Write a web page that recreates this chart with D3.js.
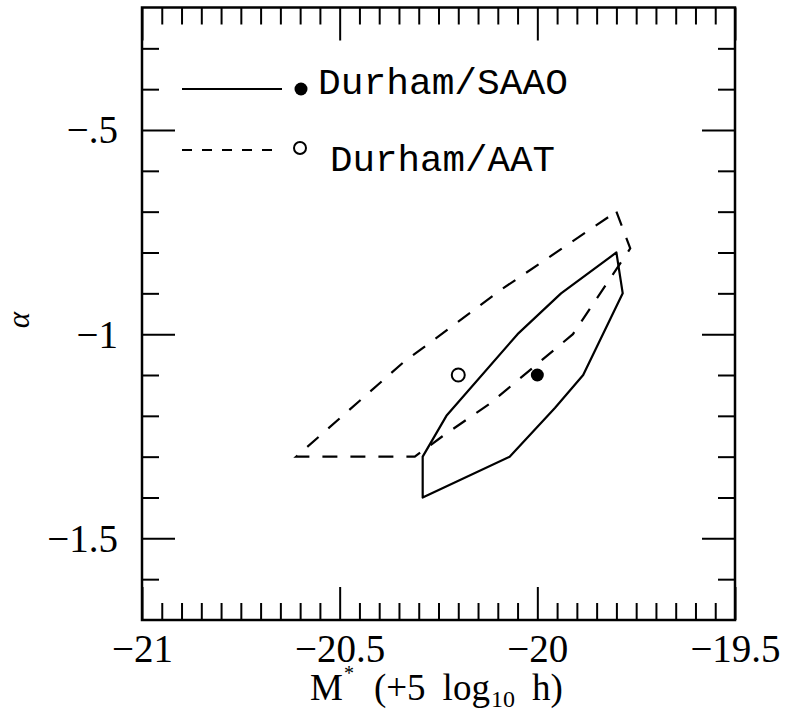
<!DOCTYPE html>
<html><head><meta charset="utf-8">
<script src="https://cdn.jsdelivr.net/npm/d3@7"></script>
<style>body{margin:0;background:#fff}</style>
</head><body>
<svg id="c" width="788" height="714"></svg>
<script>
// ---- data ----
const xMajorTicks = [-21, -20.5, -20, -19.5];
const xMajorLabels = ["\u221221", "\u221220.5", "\u221220", "\u221219.5"];
const yMajorTicks = [-0.5, -1, -1.5];
const yMajorLabels = ["\u2212.5", "\u22121", "\u22121.5"];
const xMinorStep = 0.05;
const yMinorStep = 0.1;

// Durham/SAAO contour (solid)
const saaoM     = [-19.80, -19.784, -19.884, -19.955, -20.07, -20.29, -20.29, -20.23, -20.05, -19.94];
const saaoAlpha = [-0.80,  -0.90,   -1.10,   -1.18,   -1.30,  -1.40,  -1.30,  -1.20,  -1.00,  -0.90];
// Durham/AAT contour (dashed)
const aatM      = [-19.80, -19.765, -19.91, -20.12, -20.24, -20.31, -20.61, -20.34, -20.09];
const aatAlpha  = [-0.70,  -0.79,   -1.00,  -1.17,  -1.25,  -1.30,  -1.30,  -1.07,  -0.89];

const seriesNames = ["Durham/SAAO", "Durham/AAT"];
const bestM     = [-20.00, -20.20];
const bestAlpha = [-1.10, -1.10];

// ---- layout ----
const svg = d3.select("#c");
const L = 142, R = 735, T = 7.5, B = 620;
const x = d3.scaleLinear().domain([-21, -19.5]).range([L, R]);
const y = d3.scaleLinear().domain([-1.7, -0.2]).range([B, T]);
const serif = "'Liberation Serif', 'DejaVu Serif', serif";

const xMinor = d3.range(-21 + xMinorStep, -19.5 - 1e-9, xMinorStep).filter(v => !xMajorTicks.some(m => Math.abs(m - v) < 1e-6));
const yMinor = d3.range(-1.7 + yMinorStep, -0.2 - 1e-9, yMinorStep).filter(v => !yMajorTicks.some(m => Math.abs(m - v) < 1e-6));

function styleAxis(g) {
  g.select(".domain").remove();
  g.attr("font-size", null).attr("font-family", null);
  g.selectAll("line").attr("stroke", "#000").attr("stroke-width", 2);
}
const minorLen = 17, majorLen = 33;
// bottom
svg.append("g").attr("transform", `translate(0,${B})`).call(d3.axisBottom(x).tickValues(xMinor).tickSize(-minorLen).tickFormat("")).call(styleAxis);
const xb = svg.append("g").attr("transform", `translate(0,${B})`)
  .call(d3.axisBottom(x).tickValues(xMajorTicks).tickSize(-majorLen).tickFormat((d, i) => xMajorLabels[i])).call(styleAxis);
xb.selectAll("text").attr("y", 42).attr("dy", 0).style("font-family", serif).style("font-size", "39px").attr("fill", "#000");
// top
svg.append("g").attr("transform", `translate(0,${T})`).call(d3.axisTop(x).tickValues(xMinor).tickSize(-minorLen).tickFormat("")).call(styleAxis);
svg.append("g").attr("transform", `translate(0,${T})`).call(d3.axisTop(x).tickValues(xMajorTicks).tickSize(-majorLen).tickFormat("")).call(styleAxis);
// left
svg.append("g").attr("transform", `translate(${L},0)`).call(d3.axisLeft(y).tickValues(yMinor).tickSize(-minorLen).tickFormat("")).call(styleAxis);
const yl = svg.append("g").attr("transform", `translate(${L},0)`)
  .call(d3.axisLeft(y).tickValues(yMajorTicks).tickSize(-majorLen).tickFormat((d, i) => yMajorLabels[i])).call(styleAxis);
yl.selectAll("text").attr("x", -24).attr("dy", "0.33em").style("font-family", serif).style("font-size", "39px").attr("fill", "#000").attr("text-anchor", "end");
// right
svg.append("g").attr("transform", `translate(${R},0)`).call(d3.axisRight(y).tickValues(yMinor).tickSize(-minorLen).tickFormat("")).call(styleAxis);
svg.append("g").attr("transform", `translate(${R},0)`).call(d3.axisRight(y).tickValues(yMajorTicks).tickSize(-majorLen).tickFormat("")).call(styleAxis);

// frame
svg.append("rect").attr("x", L).attr("y", T).attr("width", R - L).attr("height", B - T)
  .attr("fill", "none").attr("stroke", "#000").attr("stroke-width", 2.5);

// contours
const line = d3.line().x(d => x(d[0])).y(d => y(d[1])).curve(d3.curveLinearClosed);
svg.append("path").datum(saaoM.map((m, i) => [m, saaoAlpha[i]]))
  .attr("d", line).attr("fill", "none").attr("stroke", "#000").attr("stroke-width", 2.2).attr("stroke-linejoin", "round");
svg.append("path").datum(aatM.map((m, i) => [m, aatAlpha[i]]))
  .attr("d", line).attr("fill", "none").attr("stroke", "#000").attr("stroke-width", 2.2).attr("stroke-dasharray", "15,13");

// best-fit points
svg.append("circle").attr("cx", x(bestM[0])).attr("cy", y(bestAlpha[0])).attr("r", 6.5).attr("fill", "#000");
svg.append("circle").attr("cx", x(bestM[1])).attr("cy", y(bestAlpha[1])).attr("r", 6.5).attr("fill", "none").attr("stroke", "#000").attr("stroke-width", 2);

// legend
const mono = "'Liberation Mono', 'DejaVu Sans Mono', monospace";
svg.append("line").attr("x1", 182).attr("x2", 282).attr("y1", 89).attr("y2", 89).attr("stroke", "#000").attr("stroke-width", 2.2);
svg.append("circle").attr("cx", 301).attr("cy", 89).attr("r", 6.5).attr("fill", "#000");
svg.append("text").attr("x", 318).attr("y", 94).attr("font-family", mono).attr("font-size", 36)
  .attr("textLength", 250).attr("lengthAdjust", "spacingAndGlyphs").text(seriesNames[0]);
svg.append("line").attr("x1", 182).attr("x2", 282).attr("y1", 150).attr("y2", 150).attr("stroke", "#000").attr("stroke-width", 2.2).attr("stroke-dasharray", "10,10");
svg.append("circle").attr("cx", 300).attr("cy", 148).attr("r", 6).attr("fill", "none").attr("stroke", "#000").attr("stroke-width", 2);
svg.append("text").attr("x", 330).attr("y", 171).attr("font-family", mono).attr("font-size", 36)
  .attr("textLength", 225).attr("lengthAdjust", "spacingAndGlyphs").text(seriesNames[1]);

// axis titles
const xt = svg.append("text").attr("x", 310).attr("y", 700)
  .attr("font-family", serif).attr("font-size", 37);
xt.append("tspan").text("M");
xt.append("tspan").attr("font-size", 20).attr("dy", -20).attr("dx", 1).text("*");
xt.append("tspan").attr("dy", 20).attr("dx", 20).text("(+5");
xt.append("tspan").attr("dx", 17).text("log");
xt.append("tspan").attr("font-size", 24).attr("dy", 7).attr("dx", 1).text("10");
xt.append("tspan").attr("dy", -7).attr("dx", 17).text("h)");

svg.append("text").attr("transform", "translate(29,320) rotate(-90)").attr("text-anchor", "middle")
  .attr("font-family", serif).attr("font-style", "italic").attr("font-size", 31).text("\u03b1");
</script>
</body></html>
